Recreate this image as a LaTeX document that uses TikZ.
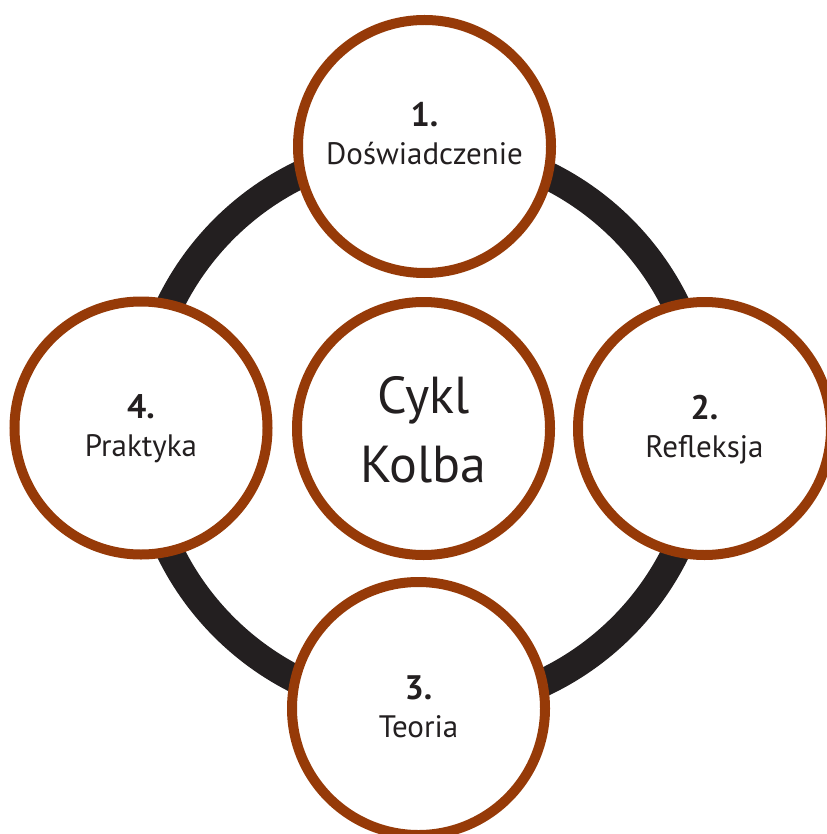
\documentclass[tikz,border=0pt]{standalone}
\usepackage{fontspec}
\setmainfont{PT Sans}
\usetikzlibrary{positioning}
\definecolor{rust}{RGB}{150,58,8}
\definecolor{ink}{RGB}{35,31,32}
\newcommand{\stepno}[1]{{\fontsize{34}{38}\selectfont\bfseries #1}}

\begin{document}
\begin{tikzpicture}[x=1pt,y=-1pt,align=center]
\tikzstyle{stage}=[circle,draw=rust,line width=10pt,fill=white,minimum size=253pt,inner sep=0pt,text=ink,font=\fontsize{31}{38}\selectfont,text height=57pt,text depth=0pt]
\tikzstyle{core}=[stage,font=\fontsize{52}{69}\selectfont,text height=107pt,text depth=0pt]
\tikzstyle{ring}=[draw=ink,line width=28pt]

\useasboundingbox (0,0) rectangle (826,834);

% cycle ring behind the stages
\coordinate (mid) at (423,428);
\draw[ring] (mid) circle (281.5pt);

\node[core] (cykl) at (423.5,428.5) {Cykl\\Kolba};
\node[stage,text height=37pt] (dosw) at (424.5,146.5) {\stepno{1.}\\Doświadczenie};
\node[stage] (refl) at (704.5,428.5) {\stepno{2.}\\Refleksja};
\node[stage] (teoria) at (418.5,708.5) {\stepno{3.}\\Teoria};
\node[stage] (prakt) at (141,428) {\stepno{4.}\\Praktyka};
\end{tikzpicture}
\end{document}
